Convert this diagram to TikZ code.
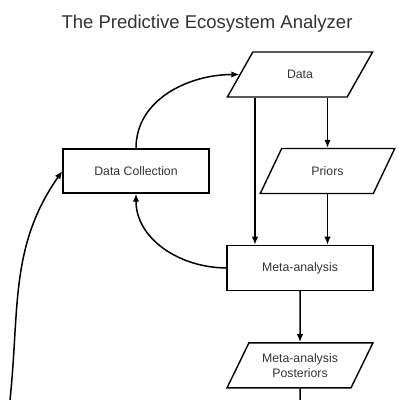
\documentclass[tikz,border=0pt]{standalone}
\usepackage{fontspec}
\setmainfont{Liberation Sans}
\usetikzlibrary{shapes.geometric, arrows.meta, positioning}

\begin{document}
\begin{tikzpicture}[
    x=1pt, y=1pt,
    font=\fontsize{12.3}{15}\selectfont,
    block/.style={rectangle, draw, line width=1.4pt, text=black!80, align=center, minimum width=146pt, minimum height=45pt},
    iobox/.style={trapezium, trapezium left angle=60, trapezium right angle=120, trapezium stretches=true, draw, line width=1.4pt, text=black!80, align=center, minimum width=146pt, minimum height=45pt},
    line/.style={draw, line width=1.5pt, -{Latex[length=8pt, width=6.5pt]}}
]
    \useasboundingbox (0,0) rectangle (400,-400);

    % Title
    \node[font=\fontsize{18.5}{22}\selectfont, text=black!80] (title) at (207,-24) {The Predictive Ecosystem Analyzer};

    % Nodes
    \node[iobox] (data) at (300,-74.5) {Data};
    \node[iobox, minimum width=135pt] (priors) at (327.5,-171) {Priors};
    \node[block, minimum height=44pt] (collect) at (136,-171) {Data Collection};
    \node[block, below=147pt of data] (meta) {Meta-analysis};
    \node[iobox, below=51pt of meta] (post) {Meta-analysis\\Posteriors};

    % Free ends at the bottom
    \coordinate (exit) at (300,-400);
    \coordinate (feed) at (10,-400);

    % Arrows
    \path[line] (priors.north |- data.south) -- (priors.north);
    \path[line] (priors.south) -- (priors.south |- meta.north);
    \path[line] ([xshift=-45pt]data.south) -- ([xshift=-45pt]data.south |- meta.north);
    \path[line] (meta) -- (post);
    \path[draw, line width=1.5pt] (post) -- (exit);
    \path[line] (collect.north) to[out=90, in=180] (data.west);
    \path[line] (meta.west) to[out=180, in=270] (collect.south);
    \path[line] (feed) to[out=84, in=235] (collect.west);

\end{tikzpicture}
\end{document}
